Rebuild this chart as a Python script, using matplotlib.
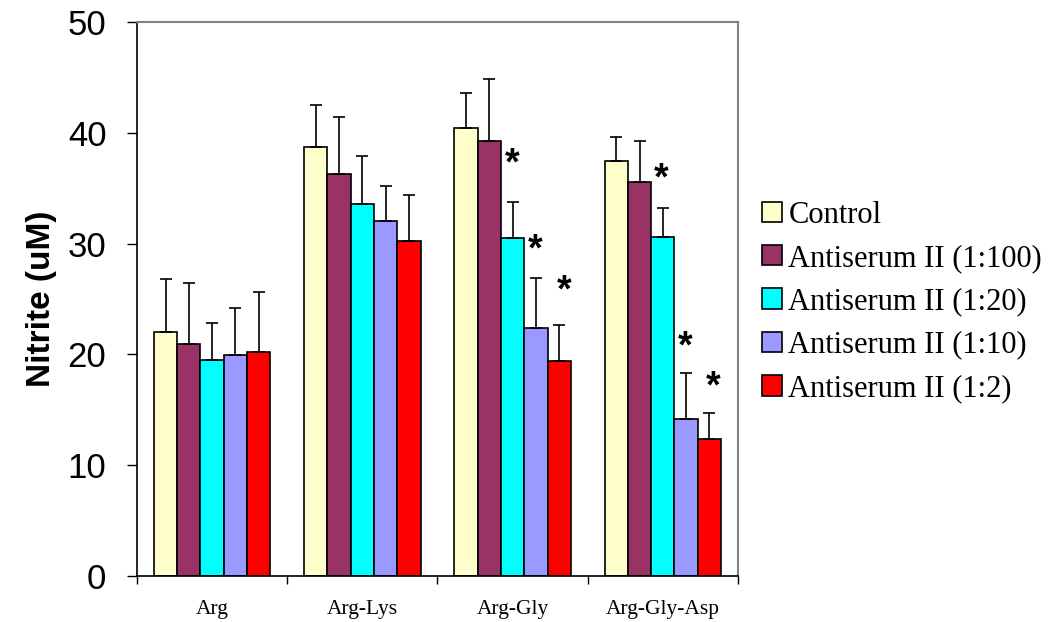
import numpy as np
import matplotlib
matplotlib.use('Agg')
import matplotlib.pyplot as plt

# data
groups = ['Arg', 'Arg-Lys', 'Arg-Gly', 'Arg-Gly-Asp']
series = ['Control', 'Antiserum II (1:100)', 'Antiserum II (1:20)',
          'Antiserum II (1:10)', 'Antiserum II (1:2)']
colors = ['#FFFFCC', '#993366', '#00FFFF', '#9999FF', '#FF0000']

values = [
    [22.0, 38.75, 40.4, 37.45],   # Control
    [20.9, 36.25, 39.25, 35.6],   # 1:100
    [19.5, 33.6, 30.5, 30.6],     # 1:20
    [19.9, 32.0, 22.4, 14.15],    # 1:10
    [20.2, 30.2, 19.4, 12.35],    # 1:2
]
errors = [
    [4.8, 3.75, 3.2, 2.2],
    [5.5, 5.2, 5.6, 3.7],
    [3.3, 4.3, 3.25, 2.6],
    [4.3, 3.2, 4.5, 4.2],
    [5.4, 4.2, 3.25, 2.35],
]

# significance stars: (x in category units, y value)
star_x = [2.0, 2.147, 2.34, 2.99, 3.147, 3.333]
star_y = [37.1, 29.4, 25.7, 35.8, 20.6, 17.0]

fig = plt.figure(figsize=(10.52, 6.22), dpi=100)
ax = fig.add_axes([0.1302, 0.074, 0.5713, 0.8906])

x = np.arange(len(groups))
w = 0.155
for i, (name, col) in enumerate(zip(series, colors)):
    pos = x + (i - 2) * w
    ax.bar(pos, values[i], width=w, color=col, edgecolor='black',
           linewidth=1.2, label=name, zorder=2)
    ax.errorbar(pos, values[i], yerr=[np.zeros(len(groups)), errors[i]],
                fmt='none', ecolor='black', elinewidth=1.2, capsize=4,
                capthick=1.2, zorder=3)

for sx, sy in zip(star_x, star_y):
    ax.text(sx, sy, '*', ha='center', va='center', fontsize=27,
            fontweight='bold', family='Liberation Sans')

ax.set_xlim(-0.5, len(groups) - 0.5)
ax.set_ylim(0, 50)
ax.set_yticks([0, 10, 20, 30, 40, 50])
ax.set_yticklabels(['0', '10', '20', '30', '40', '50'],
                   family='Liberation Sans', fontsize=25)
ax.tick_params(axis='y', direction='out', length=7, width=1, pad=15)

ax.set_xticks(np.arange(len(groups) + 1) - 0.5)
ax.set_xticklabels([])
ax.tick_params(axis='x', which='major', direction='out', length=6, width=1)
ax.set_xticks(x, minor=True)
ax.set_xticklabels(groups, minor=True, family='Liberation Serif', fontsize=15.5)
ax.tick_params(axis='x', which='minor', length=0, pad=17)

ax.set_ylabel('Nitrite (uM)', family='Liberation Sans', fontsize=24,
              fontweight='bold', labelpad=8)

for s in ['left', 'bottom']:
    ax.spines[s].set_color('black')
    ax.spines[s].set_linewidth(1.2)
for s in ['top', 'right']:
    ax.spines[s].set_color('#808080')
    ax.spines[s].set_linewidth(1.5)

leg = ax.legend(loc='center left', bbox_to_anchor=(1.04, 0.495),
                frameon=False, prop={'family': 'Liberation Serif', 'size': 22},
                handlelength=0.66, handleheight=0.66, handletextpad=0.2,
                labelspacing=0.47, borderaxespad=0, borderpad=0)

fig.savefig('out.png', dpi=100)
